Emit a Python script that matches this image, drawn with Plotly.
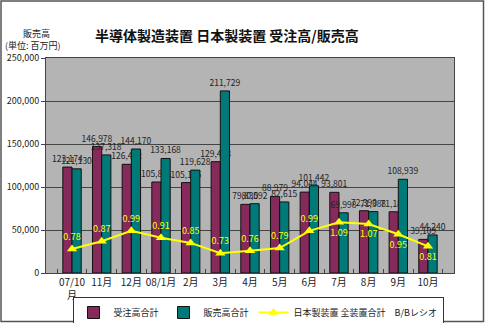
import plotly.graph_objects as go

months = ["07/10<br>月", "11月", "12月", "08/1月", "2月", "3月", "4月", "5月",
          "6月", "7月", "8月", "9月", "10月"]
orders = [123174, 146978, 126402, 105801, 105135, 129428, 79830, 88979,
          94044, 93801, 72390, 71186, 39109]
sales = [121130, 137318, 144170, 133168, 119628, 211729, 80592, 82615,
         101442, 69998, 71388, 108939, 44240]
bb_ratio = [0.78, 0.87, 0.99, 0.91, 0.85, 0.73, 0.76, 0.79, 0.99, 1.09, 1.07, 0.95, 0.81]
ratio_pos = ["top center"] * 9 + ["bottom center"] * 4

FONT = "Noto Sans CJK JP, Noto Sans, sans-serif"

fig = go.Figure()
fig.add_trace(go.Bar(
    x=months, y=orders, name="受注高合計",
    marker=dict(color="#862a5c", line=dict(color="#111111", width=1)),
    text=[f"{v:,}" for v in orders], textposition="outside",
    textfont=dict(size=8.5, color="#222222", family=FONT),
    constraintext="none", cliponaxis=False,
))
fig.add_trace(go.Bar(
    x=months, y=sales, name="販売高合計",
    marker=dict(color="#007a78", line=dict(color="#111111", width=1)),
    text=[f"{v:,}" for v in sales], textposition="outside",
    textfont=dict(size=8.5, color="#222222", family=FONT),
    constraintext="none", cliponaxis=False,
))
fig.add_trace(go.Scatter(
    x=months, y=bb_ratio, name="日本製装置 全装置合計　B/Bレシオ", yaxis="y2",
    mode="lines+markers+text",
    line=dict(color="#ffff00", width=2),
    marker=dict(symbol="triangle-up", size=9, color="#ffff00"),
    text=[f"{v:.2f}" for v in bb_ratio], textposition=ratio_pos,
    textfont=dict(size=9, color="#ffff00", family=FONT),
    cliponaxis=False,
))

W, H = 485, 323
L, R, T, B = 46, 31, 58, 50
pw, ph = W - L - R, H - T - B

def px(x):
    return (x - L) / pw

def py(y):
    return (H - B - y) / ph

fig.update_layout(
    width=W, height=H,
    margin=dict(l=L, r=R, t=T, b=B, autoexpand=False),
    paper_bgcolor="white", plot_bgcolor="#b4b4b4",
    font=dict(family=FONT, size=10, color="#222222"),
    barmode="group", bargap=0.38, bargroupgap=0,
    showlegend=True,
    legend=dict(orientation="h", x=px(258), y=py(297), xanchor="center", yanchor="top",
                bgcolor="white", bordercolor="#333333", borderwidth=1,
                font=dict(size=9), itemwidth=30, tracegroupgap=0),
    xaxis=dict(showline=True, linecolor="#444444", mirror=True, automargin=False,
               tickangle=0,
               ticks="inside", tickson="boundaries", ticklen=4, tickcolor="#444444",
               tickfont=dict(size=10), showgrid=False),
    yaxis=dict(range=[0, 250000], dtick=50000, tickformat=",", automargin=False,
               showgrid=True, gridcolor="#444444", gridwidth=1,
               showline=True, linecolor="#444444", mirror=True,
               ticks="outside", ticklen=4, tickcolor="#444444",
               tickfont=dict(size=9), zeroline=False),
    yaxis2=dict(range=[0.5, 3.0], overlaying="y", side="right", visible=False),
    annotations=[
        dict(text="<b>半導体製造装置 日本製装置 受注高/販売高</b>", xref="paper", yref="paper",
             x=px(227), y=py(35), xanchor="center", yanchor="middle", showarrow=False,
             font=dict(size=14, color="#111111")),
        dict(text="販売高", xref="paper", yref="paper", x=px(36), y=py(34),
             xanchor="center", yanchor="middle", showarrow=False, font=dict(size=9)),
        dict(text="(単位: 百万円)", xref="paper", yref="paper", x=px(3), y=py(46),
             xanchor="left", yanchor="middle", showarrow=False, font=dict(size=9)),
    ],
    shapes=[
        dict(type="rect", xref="paper", yref="paper",
             x0=px(1), x1=px(483.5), y0=py(321.5), y1=py(1),
             line=dict(color="#555555", width=1.5)),
    ],
)

fig.write_html("out.html")
